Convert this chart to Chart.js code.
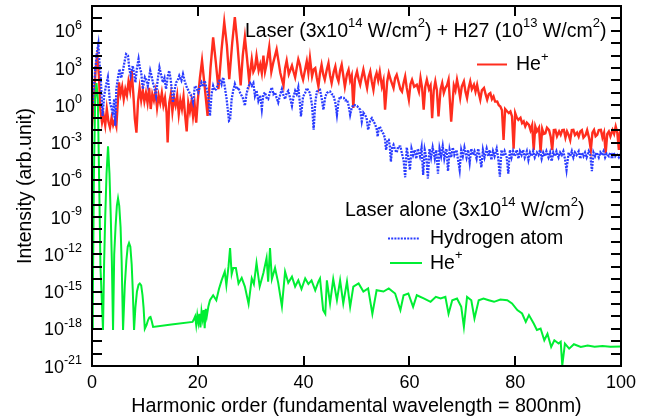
<!DOCTYPE html>
<html>
<head>
<meta charset="utf-8">
<script src="https://cdn.jsdelivr.net/npm/chart.js@4.4.1/dist/chart.umd.min.js"></script>
<style>
body{margin:0;background:#fff;}
</style>
</head>
<body>
<canvas id="mycanvas" width="655" height="419"></canvas>
<script>
// [harmonic order, log10(intensity)]
var redPts = [[0,-1.7],[0.4,0.8],[0.7,3.0],[1.0,4.0],[1.3,2.4],[1.6,-0.4],[1.9,-1.4],[2.2,-0.8],[2.5,-1.6],[2.8,-0.3],[3.1,-1.3],[3.4,-1.8],[3.7,-1.0],[4.0,-1.6],[4.3,-1.2],[4.6,-1.7],[4.9,0.4],[5.1,1.85],[5.4,0.9],[5.7,1.5],[6.0,0.5],[6.3,1.3],[6.6,0.8],[6.9,1.9],[7.2,1.2],[7.5,2.75],[7.8,1.0],[8.1,-1.1],[8.4,-2.2],[8.7,0.3],[9.0,1.4],[9.3,0.4],[9.6,1.2],[9.9,0.3],[10.2,1.0],[10.5,0.2],[10.8,1.4],[11.1,-0.3],[11.4,0.9],[11.7,0.4],[12.0,1.1],[12.3,-0.2],[12.6,0.8],[12.9,0.2],[13.2,1.0],[13.5,0.0],[13.8,0.6],[14.1,-0.6],[14.3,-3.0],[14.6,0.2],[14.9,0.9],[15.2,-0.5],[15.5,0.6],[15.8,0.0],[16.1,0.8],[16.4,-0.7],[16.7,0.4],[17.0,-0.3],[17.3,0.7],[17.6,-0.8],[17.9,-2.1],[18.2,0.2],[18.5,-0.5],[18.8,0.3],[19.1,-0.9],[19.4,0.1],[19.7,-1.4],[20.0,0.4],[20.4,2.2],[20.8,3.6],[21.3,1.5],[21.85,-0.85],[22.4,3.0],[22.9,5.47],[23.4,3.5],[23.9,1.3],[24.5,4.5],[25.0,6.7],[25.5,4.8],[25.95,2.1],[26.5,5.0],[27.0,7.1],[27.5,4.9],[28.1,1.6],[28.5,4.0],[28.9,5.5],[29.3,3.8],[29.7,2.0],[30.2,3.7],[30.5,2.7],[30.8,3.0],[31.1,4.0],[31.5,2.8],[31.8,3.3],[32.1,2.6],[32.4,4.0],[32.7,2.7],[33.0,3.3],[33.5,4.7],[33.9,2.7],[34.3,3.5],[34.9,4.5],[35.2,3.7],[35.6,2.6],[36.2,1.6],[36.5,3.0],[36.8,3.6],[37.2,2.5],[37.8,3.2],[38.1,2.7],[38.4,2.25],[38.7,3.0],[39.0,3.7],[39.3,3.27],[39.6,2.5],[39.9,2.06],[40.3,2.9],[40.6,3.54],[40.9,2.6],[41.2,3.81],[41.6,2.33],[41.9,2.9],[42.2,3.0],[42.5,2.2],[42.8,1.52],[43.1,2.6],[43.4,3.27],[43.7,2.5],[44.0,2.06],[44.4,2.9],[44.7,3.4],[45.0,2.4],[45.3,1.79],[45.7,2.7],[46.0,3.13],[46.3,2.3],[46.6,1.92],[46.9,2.8],[47.2,3.27],[47.5,2.4],[47.8,1.5],[48.2,2.5],[48.5,2.87],[48.8,2.0],[49.1,2.4],[49.4,-0.22],[49.7,2.1],[50.1,2.73],[50.4,2.1],[50.7,1.66],[51.0,2.3],[51.3,2.87],[51.7,2.0],[52.0,1.39],[52.3,2.3],[52.6,2.73],[52.9,1.9],[53.2,1.25],[53.5,2.2],[53.8,2.6],[54.1,2.0],[54.4,2.7],[54.8,1.5],[55.1,2.0],[55.4,-0.36],[55.8,1.9],[56.1,2.6],[56.5,2.0],[57.0,1.39],[57.3,2.2],[57.6,2.46],[58.0,1.8],[58.3,1.3],[58.6,1.11],[58.9,1.8],[59.2,2.33],[59.5,1.4],[59.9,0.45],[60.2,1.7],[60.5,2.06],[60.9,1.5],[61.4,1.66],[61.8,1.1],[62.1,2.2],[62.4,1.4],[62.7,-0.36],[63.0,1.5],[63.3,2.06],[63.7,1.3],[64.0,1.6],[64.3,-1.03],[64.6,1.2],[64.9,1.92],[65.2,1.2],[65.5,-0.9],[65.9,1.3],[66.2,1.79],[66.5,1.0],[66.8,1.39],[67.1,1.6],[67.4,2.06],[67.9,-1.32],[68.4,1.6],[68.7,1.2],[69.0,2.06],[69.3,1.4],[69.6,0.6],[69.9,1.5],[70.3,1.92],[70.6,1.1],[70.9,0.58],[71.2,1.4],[71.5,1.92],[71.8,1.3],[72.2,1.66],[72.5,1.1],[72.8,1.66],[73.1,1.0],[73.4,0.45],[73.7,1.2],[74.1,1.39],[74.4,0.9],[74.7,0.45],[75.0,0.9],[75.3,0.99],[75.6,0.5],[75.9,0.71],[76.2,0.3],[76.6,0.31],[76.9,0.0],[77.2,-0.1],[77.5,-0.4],[77.8,-2.78],[78.1,-0.3],[78.5,-0.5],[78.8,-0.63],[79.1,-0.5],[79.4,-0.9],[79.7,-3.5],[80.0,-0.63],[80.3,-1.0],[80.6,-1.17],[81.0,-1.0],[81.3,-1.44],[81.6,-1.3],[81.9,-1.7],[82.2,-1.4],[82.6,-1.57],[82.9,-2.0],[83.2,-1.6],[83.5,-3.6],[83.8,-1.71],[84.1,-2.1],[84.5,-1.8],[84.8,-3.73],[85.1,-1.9],[85.4,-2.3],[85.7,-2.25],[86.0,-1.8],[86.4,-2.0],[86.7,-2.5],[87.0,-3.6],[87.3,-2.0],[87.6,-1.98],[87.9,-2.5],[88.3,-2.1],[88.6,-2.38],[88.9,-2.0],[89.2,-1.98],[89.5,-2.6],[89.8,-2.1],[90.1,-2.38],[90.4,-2.8],[90.7,-2.0],[91.0,-1.98],[91.3,-2.4],[91.7,-2.2],[92.0,-2.52],[92.3,-2.1],[92.6,-2.0],[92.9,-2.6],[93.3,-2.4],[93.6,-2.0],[94.0,-2.7],[94.3,-3.6],[94.6,-2.2],[94.9,-1.98],[95.2,-2.5],[95.5,-2.38],[95.8,-2.0],[96.2,-1.98],[96.5,-2.6],[96.8,-2.2],[97.1,-3.87],[97.4,-2.3],[97.7,-2.11],[98.0,-2.5],[98.4,-1.98],[98.7,-2.3],[99.0,-1.71],[99.3,-2.2],[99.6,-3.6],[99.8,-2.2],[100,-1.98]];

var bluePts = [[0,-0.85],[0.3,1.0],[0.57,2.65],[0.9,4.2],[1.2,4.94],[1.4,3.5],[1.6,2.65],[1.8,0.9],[2.0,-0.85],[2.3,0.77],[2.6,1.5],[3.0,2.25],[3.4,0.23],[3.9,-0.6],[4.2,0.5],[4.4,-1.65],[4.6,1.31],[4.9,2.2],[5.2,2.92],[5.5,2.2],[5.8,2.65],[6.1,3.4],[6.45,4.13],[6.8,4.0],[7.05,3.0],[7.3,2.38],[7.7,3.19],[8.0,2.5],[8.2,1.84],[8.5,3.0],[8.8,3.73],[9.05,3.0],[9.3,2.65],[9.6,1.31],[10.0,2.25],[10.3,2.0],[10.55,1.57],[11.0,2.79],[11.3,2.3],[11.5,1.84],[11.8,1.4],[12.1,0.77],[12.4,2.0],[12.75,3.05],[13.1,2.4],[13.4,1.84],[13.7,2.2],[14.0,1.31],[14.3,2.3],[14.6,2.79],[14.9,2.0],[15.3,0.23],[15.6,1.2],[15.9,1.84],[16.2,2.0],[16.5,2.38],[16.9,2.0],[17.2,2.52],[17.5,2.0],[17.8,1.57],[18.1,1.3],[18.4,1.04],[18.8,0.7],[19.1,0.23],[19.45,1.57],[19.7,1.44],[20.1,1.04],[20.4,1.5],[20.7,1.84],[21.0,1.5],[21.3,1.98],[21.7,1.3],[22.0,0.77],[22.3,-0.85],[22.6,0.9],[22.9,1.57],[23.2,1.2],[23.5,1.31],[23.9,1.8],[24.2,2.11],[24.5,1.7],[24.8,2.25],[25.1,1.5],[25.45,0.5],[25.9,-1.25],[26.1,-1.17],[26.4,0.5],[26.7,1.2],[27.0,1.71],[27.3,1.3],[27.65,1.44],[28.0,1.0],[28.3,0.77],[28.6,0.5],[28.9,-0.04],[29.2,0.9],[29.5,1.44],[29.9,1.79],[30.2,1.57],[30.5,1.79],[30.8,0.77],[31.1,1.2],[31.45,0.36],[31.8,0.8],[32.1,-0.3],[32.4,0.9],[32.7,1.04],[33.0,0.6],[33.3,0.5],[33.6,1.0],[34.0,1.44],[34.3,0.9],[34.6,1.04],[34.9,0.6],[35.2,0.23],[35.6,0.9],[35.9,1.31],[36.2,0.8],[36.5,0.5],[36.8,1.0],[37.1,1.17],[37.5,0.5],[37.8,-0.04],[38.1,0.7],[38.4,1.17],[38.7,0.9],[39.0,1.44],[39.3,0.18],[39.5,-0.9],[39.9,0.71],[40.3,1.0],[40.6,1.39],[40.9,1.2],[41.2,0.99],[41.6,0.0],[41.9,-1.97],[42.2,0.2],[42.5,1.11],[42.8,1.2],[43.1,1.25],[43.4,0.6],[43.75,-0.36],[44.1,0.7],[44.4,0.99],[44.7,1.1],[45.0,1.11],[45.3,0.9],[45.6,0.85],[46.0,0.2],[46.3,-0.77],[46.6,0.3],[46.9,0.71],[47.2,0.62],[47.6,0.6],[47.9,0.4],[48.2,0.45],[48.5,0.0],[48.8,-0.77],[49.1,-0.2],[49.4,0.04],[49.8,0.0],[50.1,-0.05],[50.4,-0.2],[50.7,-0.36],[51.0,-1.3],[51.3,-0.6],[51.6,-0.77],[51.9,-1.0],[52.2,-1.97],[52.6,-1.2],[52.9,-1.03],[53.2,-1.3],[53.5,-1.5],[53.8,-1.9],[54.0,-2.52],[54.2,-1.9],[54.4,-1.71],[54.8,-2.1],[55.1,-2.3],[55.35,-2.6],[55.6,-3.6],[55.85,-2.8],[56.1,-2.78],[56.3,-3.3],[56.5,-4.53],[56.75,-3.4],[57.0,-3.19],[57.3,-3.6],[57.6,-3.8],[57.9,-3.3],[58.3,-3.32],[58.6,-3.9],[58.9,-4.4],[59.2,-5.8],[59.5,-3.4],[59.8,-4.2],[60.1,-5.2],[60.4,-3.5],[60.7,-4.0],[61.0,-3.6],[61.3,-4.3],[61.6,-3.5],[62.0,-4.1],[62.3,-3.4],[62.6,-5.6],[62.9,-3.6],[63.2,-4.2],[63.5,-5.9],[63.8,-3.5],[64.1,-4.2],[64.4,-3.4],[64.8,-4.3],[65.1,-3.6],[65.4,-5.5],[65.7,-3.5],[66.0,-4.1],[66.3,-3.3],[66.6,-4.3],[67.0,-3.5],[67.3,-5.3],[67.6,-3.6],[67.9,-4.2],[68.2,-3.4],[68.5,-4.0],[68.9,-3.6],[69.2,-4.4],[69.5,-5.2],[69.8,-3.6],[70.1,-4.1],[70.4,-3.4],[70.8,-4.2],[71.1,-3.6],[71.4,-4.6],[71.7,-3.5],[72.0,-4.0],[72.3,-3.7],[72.7,-4.3],[73.0,-3.5],[73.3,-4.1],[73.6,-5.0],[73.9,-3.6],[74.2,-4.2],[74.6,-3.5],[74.9,-4.1],[75.2,-3.6],[75.5,-4.4],[75.8,-3.7],[76.1,-4.1],[76.5,-3.5],[76.8,-4.3],[77.1,-5.75],[77.4,-3.6],[77.7,-4.1],[78.0,-3.7],[78.4,-4.2],[78.7,-5.5],[79.0,-3.6],[79.3,-4.2],[79.6,-3.7],[79.9,-4.1],[80.3,-3.6],[80.6,-4.3],[80.9,-3.7],[81.2,-4.0],[81.5,-3.6],[81.8,-4.2],[82.2,-3.7],[82.5,-4.4],[82.8,-3.8],[83.1,-4.1],[83.4,-3.7],[83.7,-4.2],[84.1,-3.8],[84.4,-4.0],[84.7,-3.6],[85.0,-4.3],[85.3,-3.8],[85.6,-4.1],[85.9,-3.7],[86.3,-4.2],[86.6,-3.8],[86.9,-4.5],[87.2,-3.8],[87.5,-4.1],[87.8,-3.7],[88.2,-4.2],[88.5,-3.8],[88.8,-4.0],[89.1,-3.7],[89.4,-4.3],[89.7,-5.2],[90.1,-3.8],[90.4,-4.1],[90.7,-3.7],[91.0,-4.2],[91.3,-3.8],[91.6,-4.0],[92.0,-3.7],[92.3,-4.3],[92.6,-3.8],[92.9,-4.1],[93.2,-3.8],[93.5,-4.2],[93.9,-3.7],[94.2,-4.0],[94.5,-5.3],[94.8,-3.8],[95.1,-4.1],[95.4,-3.8],[95.8,-4.2],[96.1,-3.8],[96.4,-4.0],[96.7,-3.7],[97.0,-4.2],[97.3,-3.9],[97.7,-4.1],[98.0,-3.8],[98.3,-4.3],[98.6,-3.8],[98.9,-4.1],[99.2,-3.9],[99.6,-4.2],[100,-3.9]];

var greenPts = [[0,-18],[0.15,-16],[0.35,-6],[0.6,0.5],[0.85,1.8],[1.1,0.5],[1.35,-6],[1.6,-13],[2.08,-18.1],[2.3,-12.5],[2.5,-9],[2.75,-5.5],[3.03,-3.3],[3.3,-5.5],[3.55,-9],[3.75,-12.5],[3.98,-18.1],[4.2,-12],[4.45,-9.8],[4.7,-8.1],[4.92,-7.5],[5.15,-8.1],[5.4,-9.8],[5.6,-12.5],[5.87,-18.1],[6.2,-14.5],[6.5,-12.5],[6.75,-11.4],[7.0,-11.1],[7.25,-11.4],[7.5,-12.8],[7.7,-14.8],[7.95,-18.1],[8.2,-16.3],[8.5,-15.0],[8.8,-14.45],[9.03,-14.35],[9.3,-14.5],[9.55,-15.3],[9.75,-16.3],[9.98,-18.0],[10.3,-17.7],[10.6,-17.3],[10.85,-17.1],[11.06,-17.05],[11.3,-17.4],[11.55,-17.85],[15,-17.65],[19.0,-17.45],[19.2,-17.3],[19.5,-17.0],[19.7,-17.7],[19.9,-16.9],[20.1,-17.5],[20.3,-16.8],[20.5,-17.9],[20.7,-16.6],[20.9,-17.2],[21.1,-16.5],[21.3,-17.95],[21.5,-16.4],[21.7,-17.0],[22.0,-16.2],[22.3,-15.7],[22.9,-15.3],[23.5,-15.7],[24.0,-14.8],[24.5,-14.1],[25.1,-13.4],[25.4,-14.5],[25.8,-13.0],[26.1,-11.5],[26.4,-13.6],[26.7,-13.1],[27.2,-13.1],[27.7,-14.35],[28.3,-13.9],[28.9,-14.6],[29.6,-16.0],[30.2,-13.95],[30.6,-14.4],[31.1,-12.7],[31.7,-14.6],[32.4,-13.5],[33.0,-12.3],[33.3,-14.2],[33.65,-11.5],[34.0,-14.0],[34.6,-13.1],[35.2,-14.3],[35.9,-16.2],[36.5,-13.4],[37.1,-14.3],[37.8,-13.8],[38.4,-14.6],[39.0,-14.1],[39.6,-14.8],[40.3,-13.95],[40.9,-14.4],[41.5,-14.1],[42.2,-14.9],[42.8,-14.2],[43.1,-13.95],[43.7,-16.5],[44.1,-16.8],[44.4,-14.1],[45.0,-15.96],[45.6,-14.0],[46.3,-15.7],[46.9,-14.1],[47.5,-15.96],[48.2,-14.2],[48.8,-16.24],[49.4,-14.6],[50.4,-14.35],[51.3,-15.0],[52.2,-14.75],[53.0,-16.8],[53.8,-14.9],[55.1,-15.0],[56.1,-14.75],[57.3,-15.16],[58.3,-16.5],[58.9,-15.3],[59.8,-15.16],[60.7,-16.24],[61.4,-15.3],[62.7,-15.56],[64.0,-15.83],[65.0,-15.43],[65.9,-15.56],[66.8,-15.43],[67.4,-16.8],[68.1,-15.7],[69.0,-15.56],[69.8,-16.24],[70.3,-17.85],[70.9,-15.43],[71.7,-15.7],[72.3,-17.17],[73.1,-15.7],[74.0,-15.56],[75.0,-15.7],[76.0,-15.83],[77.2,-15.65],[78.5,-15.7],[79.4,-15.96],[80.4,-16.5],[81.3,-16.77],[82.0,-17.45],[82.6,-16.9],[83.5,-17.58],[84.1,-18.1],[84.8,-17.98],[85.5,-18.93],[86.1,-18.4],[86.8,-19.47],[87.4,-18.93],[88.2,-19.19],[88.6,-19.05],[88.9,-20.95],[89.4,-19.2],[90.2,-19.6],[91.1,-19.25],[92.4,-19.47],[93.7,-19.35],[95.0,-19.45],[96.5,-19.38],[98.0,-19.45],[100,-19.42]];

var xTicks = [0, 20, 40, 60, 80, 100];
var yLabelExp = [-21, -18, -15, -12, -9, -6, -3, 0, 3, 6];

var FONT = '"Liberation Sans", Arial, Helvetica, sans-serif';

function toXY(pts) {
	return pts.map(function(p){ return {x: p[0], y: Math.pow(10, p[1])}; });
}

// draws a run of [text, isSuperscript] pieces, returns end x
function drawRich(ctx, parts, x, y, size, supSize, rise, measureOnly) {
	var cx = x;
	parts.forEach(function(p){
		ctx.font = (p[1] ? supSize : size) + 'px ' + FONT;
		if (!measureOnly) ctx.fillText(p[0], cx, p[1] ? y - rise : y);
		cx += ctx.measureText(p[0]).width;
	});
	return cx;
}

var decorPlugin = {
	id: 'decor',
	afterDraw: function(chart) {
		var ctx = chart.ctx;
		var a = chart.chartArea;
		var xs = chart.scales.x, ys = chart.scales.y;
		ctx.save();
		ctx.fillStyle = '#000';
		ctx.strokeStyle = '#000';
		ctx.lineWidth = 2;
		ctx.textAlign = 'left';
		ctx.textBaseline = 'alphabetic';

		// frame
		ctx.strokeRect(a.left, a.top, a.right - a.left, a.bottom - a.top);

		// inward ticks, every decade on y
		ctx.beginPath();
		for (var k = -20; k <= 7; k++) {
			var py = Math.round(ys.getPixelForValue(Math.pow(10, k))) ;
			ctx.moveTo(a.left, py); ctx.lineTo(a.left + 10, py);
			ctx.moveTo(a.right, py); ctx.lineTo(a.right - 10, py);
		}
		xTicks.forEach(function(t){
			if (t === 0 || t === 100) return;
			var px = Math.round(xs.getPixelForValue(t));
			ctx.moveTo(px, a.bottom); ctx.lineTo(px, a.bottom - 10);
			ctx.moveTo(px, a.top); ctx.lineTo(px, a.top + 10);
		});
		ctx.stroke();

		// y tick labels 10^n
		yLabelExp.forEach(function(e){
			var py = ys.getPixelForValue(Math.pow(10, e));
			var parts = [['10', false], [(e < 0 ? '-' : '') + Math.abs(e), true]];
			var w = drawRich(ctx, parts, 0, 0, 18, 12.5, 0, true);
			drawRich(ctx, parts, 82 - w, py + 6.5, 18, 12.5, 8.5, false);
		});

		// x tick labels
		ctx.font = '18px ' + FONT;
		ctx.textAlign = 'center';
		xTicks.forEach(function(t){
			ctx.fillText(String(t), xs.getPixelForValue(t), 388);
		});

		// axis titles
		ctx.font = '19.7px ' + FONT;
		ctx.fillText('Harmonic order (fundamental wavelength = 800nm)', (a.left + a.right) / 2, 411.5);
		ctx.save();
		ctx.translate(31, (a.top + a.bottom) / 2);
		ctx.rotate(-Math.PI / 2);
		ctx.font = '19.5px ' + FONT;
		ctx.fillText('Intensity (arb.unit)', 0, 0);
		ctx.restore();
		ctx.textAlign = 'left';

		// in-plot legends
		drawRich(ctx, [['Laser (3x10', false], ['14', true], [' W/cm', false], ['2', true], [') + H27 (10', false], ['13', true], [' W/cm', false], ['2', true], [')', false]], 245, 36.5, 19.5, 13, 9.5);
		ctx.lineWidth = 2;
		ctx.strokeStyle = '#ff2d1e';
		ctx.beginPath(); ctx.moveTo(477, 64.5); ctx.lineTo(507, 64.5); ctx.stroke();
		drawRich(ctx, [['He', false], ['+', true]], 516, 70, 19.5, 13, 9.5);

		drawRich(ctx, [['Laser alone (3x10', false], ['14', true], [' W/cm', false], ['2', true], [')', false]], 345, 215.5, 19.5, 13, 9.5);
		ctx.strokeStyle = '#2a3cff';
		ctx.setLineDash([2, 1.2]);
		ctx.beginPath(); ctx.moveTo(388, 238.5); ctx.lineTo(420, 238.5); ctx.stroke();
		ctx.setLineDash([]);
		drawRich(ctx, [['Hydrogen atom', false]], 430, 243.5, 19.5, 13, 9.5);
		ctx.strokeStyle = '#00ee33';
		ctx.beginPath(); ctx.moveTo(390, 263); ctx.lineTo(422, 263); ctx.stroke();
		drawRich(ctx, [['He', false], ['+', true]], 430, 268.5, 19.5, 13, 9.5);
		ctx.restore();
	}
};

var ctx = document.getElementById('mycanvas');
var chart = new Chart(ctx, {
	type: 'line',
	data: {
		datasets: [
			{label: 'He+ (laser alone)', data: toXY(greenPts), borderColor: '#00ee33', borderWidth: 2, order: 0},
			{label: 'Hydrogen atom', data: toXY(bluePts), borderColor: '#2a3cff', borderWidth: 2.3, borderDash: [2, 1.2], order: 1},
			{label: 'He+ (laser + H27)', data: toXY(redPts), borderColor: '#ff2d1e', borderWidth: 2.4, order: 2}
		]
	},
	options: {
		responsive: false,
		animation: false,
		layout: {padding: {left: 92, right: 34, top: 6, bottom: 53}},
		elements: {point: {radius: 0}, line: {tension: 0, fill: false}},
		plugins: {legend: {display: false}, tooltip: {enabled: false}, title: {display: false}},
		scales: {
			x: {type: 'linear', min: 0, max: 100, display: false},
			y: {type: 'logarithmic', min: 1e-21, max: 1e8, display: false}
		}
	},
	plugins: [decorPlugin]
});
</script>
</body>
</html>
